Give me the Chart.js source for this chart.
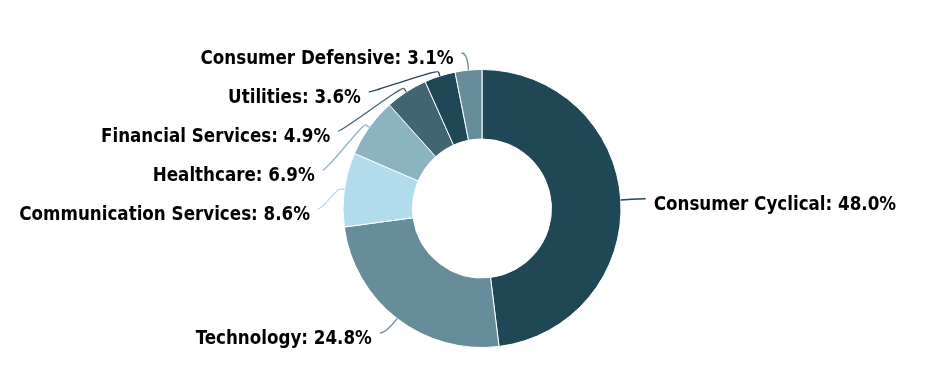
<!DOCTYPE html>
<html>
<head>
<meta charset="utf-8">
<script src="https://cdn.jsdelivr.net/npm/chart.js@4.4.1/dist/chart.umd.min.js"></script>
<style>
  html, body { margin: 0; padding: 0; background: #fff; }
</style>
</head>
<body>
<canvas id="sectorChart" width="934" height="372"></canvas>
<script>
// sector weights (%)
const sectors = ['Consumer Cyclical', 'Technology', 'Communication Services', 'Healthcare', 'Financial Services', 'Utilities', 'Consumer Defensive'];
const weights = [48.0, 24.8, 8.6, 6.9, 4.9, 3.6, 3.1];
const sliceColors = ['#204756', '#678d9b', '#b2dcec', '#8bb3c2', '#426574', '#204756', '#678d9b'];

const labelFont = 'bold 18.6px "DejaVu Sans Condensed", "DejaVu Sans", sans-serif';
const labelDistance = 20;
const connectorPadding = 5;
const textGap = 8;
const labelSpacing = 39;
const topY = 53, bottomY = 333;

// outside labels with soft connectors
const outsideLabels = {
    id: 'outsideLabels',
    afterDatasetsDraw(chart) {
        const ctx = chart.ctx;
        const arcs = chart.getDatasetMeta(0).data;
        const items = arcs.map((arc, i) => {
            const mid = (arc.startAngle + arc.endAngle) / 2;
            const R = arc.outerRadius + labelDistance;
            return {
                i, arc, mid, R,
                left: Math.cos(mid) < 0,
                naturalY: arc.y + Math.sin(mid) * R
            };
        });

        [true, false].forEach(side => {
            const list = items.filter(p => p.left === side).sort((a, b) => a.naturalY - b.naturalY);
            let prev = -Infinity;
            list.forEach(p => {
                p.y = Math.max(p.naturalY, prev + labelSpacing, topY);
                prev = p.y;
            });
            let next = Infinity;
            for (let k = list.length - 1; k >= 0; k--) {
                const p = list[k];
                p.y = Math.min(p.y, next - labelSpacing, bottomY);
                next = p.y;
            }
        });

        ctx.save();
        items.forEach(p => {
            const arc = p.arc;
            const dir = p.left ? -1 : 1;
            const yForX = (p.y === topY || p.y === bottomY) ? p.naturalY : p.y;
            const s = Math.max(-1, Math.min(1, (yForX - arc.y) / p.R));
            const ax = arc.x + dir * (Math.cos(Math.asin(s)) * p.R + connectorPadding);
            const ay = p.y;

            const r = arc.outerRadius;
            const tx = arc.x + Math.cos(p.mid) * r, ty = arc.y + Math.sin(p.mid) * r;
            const off = r + labelDistance / 5;
            const bx = arc.x + Math.cos(p.mid) * off, by = arc.y + Math.sin(p.mid) * off;

            ctx.beginPath();
            ctx.moveTo(ax, ay);
            ctx.bezierCurveTo(ax - dir * 5, ay, 2 * bx - tx, 2 * by - ty, bx, by);
            ctx.lineTo(tx, ty);
            ctx.strokeStyle = sliceColors[p.i];
            ctx.lineWidth = 1.3;
            ctx.stroke();

            ctx.font = labelFont;
            ctx.fillStyle = '#000';
            ctx.textBaseline = 'alphabetic';
            ctx.textAlign = p.left ? 'right' : 'left';
            ctx.fillText(sectors[p.i] + ': ' + weights[p.i].toFixed(1) + '%', ax + dir * textGap, ay + 11);
        });
        ctx.restore();
    }
};

const ctx = document.getElementById('sectorChart').getContext('2d');
const sectorChart = new Chart(ctx, {
    type: 'doughnut',
    data: {
        labels: sectors,
        datasets: [{
            data: weights,
            backgroundColor: sliceColors,
            borderColor: '#ffffff',
            borderWidth: 1,
            hoverOffset: 0
        }]
    },
    options: {
        responsive: false,
        animation: false,
        events: [],
        cutout: '50%',
        layout: { padding: { top: 69, bottom: 24, left: 300, right: 270 } },
        plugins: {
            legend: { display: false },
            tooltip: { enabled: false }
        }
    },
    plugins: [outsideLabels]
});
</script>
</body>
</html>
